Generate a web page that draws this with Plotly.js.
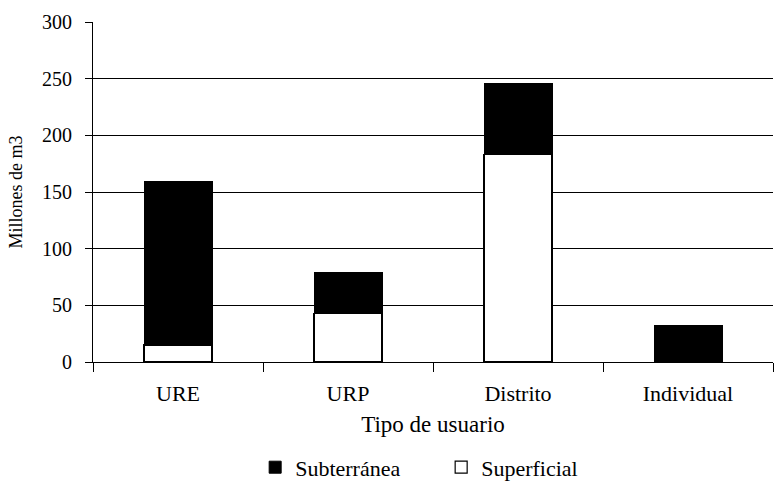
<!DOCTYPE html>
<html><head><meta charset="utf-8">
<script src="https://cdn.plot.ly/plotly-3.0.1.min.js"></script>
<style>html,body{margin:0;padding:0;background:#fff}#c{width:774px;height:484px}</style>
</head><body><div id="c"></div>
<script>
const categories = ["URE", "URP", "Distrito", "Individual"];
const superficial = [15, 43, 183, 0];
const subterranea = [144, 36, 63, 32];
const yTicks = [0, 50, 100, 150, 200, 250, 300];

const font = "'Liberation Serif', 'Times New Roman', serif";
const traces = [
  {type: "bar", name: "Superficial", x: categories, y: superficial,
   marker: {color: "#ffffff", line: {color: "#000", width: 1.2}}, width: 0.4},
  {type: "bar", name: "Subterránea", x: categories, y: subterranea,
   marker: {color: "#000000", line: {color: "#000", width: 1}}, width: 0.4}
];
const layout = {
  width: 774, height: 484,
  margin: {l: 93, r: 1, t: 22, b: 122, autoexpand: false},
  paper_bgcolor: "#fff", plot_bgcolor: "#fff",
  barmode: "stack",
  font: {family: font, size: 19, color: "#000"},
  xaxis: {
    type: "category", tickson: "boundaries", ticks: "outside", ticklen: 9,
    tickcolor: "#000", showline: true, linecolor: "#000", linewidth: 1,
    showgrid: false, tickfont: {family: font, size: 22}, ticklabelstandoff: 12,
    title: {text: "Tipo de usuario", font: {family: font, size: 23}, standoff: 10}
  },
  yaxis: {
    range: [0, 300], tickvals: yTicks, ticks: "outside", ticklen: 7,
    tickcolor: "#000", showline: true, linecolor: "#000", linewidth: 1,
    showgrid: true, gridcolor: "#000", gridwidth: 1, zeroline: false,
    tickfont: {family: font, size: 20}, ticklabelstandoff: 9,
    title: {text: "Millones de m3", font: {family: font, size: 18}, standoff: 14}
  },
  legend: {orientation: "h", x: 0.512, xanchor: "center", y: -0.31, yanchor: "middle",
    traceorder: "reversed", font: {family: font, size: 22}, itemwidth: 30,
    entrywidth: 141, entrywidthmode: "pixels"},
  showlegend: true
};
Plotly.newPlot("c", traces, layout, {staticPlot: true});
</script></body></html>
